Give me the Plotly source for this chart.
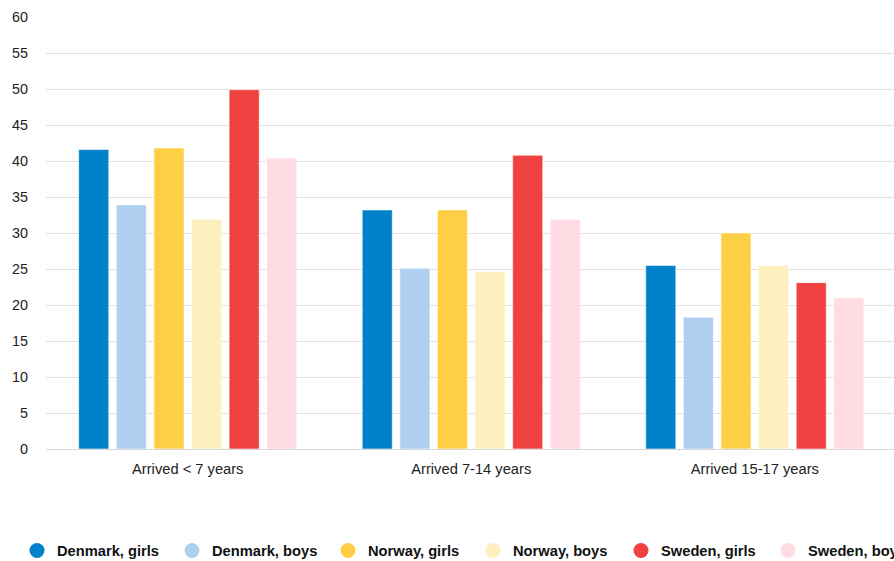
import plotly.graph_objects as go

categories = ["Arrived < 7 years", "Arrived 7-14 years", "Arrived 15-17 years"]
series_names = ["Denmark, girls", "Denmark, boys", "Norway, girls", "Norway, boys", "Sweden, girls", "Sweden, boys"]
denmark_girls = [41.6, 33.2, 25.5]
denmark_boys = [33.9, 25.1, 18.3]
norway_girls = [41.8, 33.2, 30.0]
norway_boys = [31.9, 24.6, 25.5]
sweden_girls = [49.9, 40.8, 23.1]
sweden_boys = [40.4, 31.9, 21.0]
series_values = [denmark_girls, denmark_boys, norway_girls, norway_boys, sweden_girls, sweden_boys]
colors = ["#0081C9", "#AECFF0", "#FECE44", "#FEEFBE", "#EF413F", "#FFDCE3"]
y_ticks = list(range(0, 61, 5))

FONT = "Liberation Sans, Arial, sans-serif"
W, H = 894, 561
ML, MR, MT, MB = 46, 0, 17, 112
# legend entry left edges (px), one legend box per series so the row never wraps
legend_left_px = [17, 172, 328, 473, 621, 768]

fig = go.Figure()
for name, vals, col in zip(series_names, series_values, colors):
    fig.add_trace(go.Bar(
        x=categories, y=vals, name=name, showlegend=False,
        marker=dict(color=col, line=dict(color="white", width=0.6)),
    ))

legend_layout = {}
for i, (name, col) in enumerate(zip(series_names, colors)):
    key = "legend" if i == 0 else f"legend{i + 1}"
    fig.add_trace(go.Scatter(
        x=[None], y=[None], mode="markers", name=name, legend=key,
        marker=dict(color=col, size=15, symbol="circle"),
    ))
    legend_layout[key] = dict(
        orientation="h", x=(legend_left_px[i] - ML) / (W - ML - MR), xanchor="left",
        y=-0.236, yanchor="middle", bgcolor="rgba(0,0,0,0)",
        font=dict(size=14.7, color="#111111", family=FONT, weight="bold"),
        itemsizing="trace", itemwidth=30,
    )

fig.update_layout(
    width=W, height=H,
    margin=dict(l=ML, r=MR, t=MT, b=MB, autoexpand=False),
    plot_bgcolor="white", paper_bgcolor="white",
    barmode="group", bargap=0.204, bargroupgap=0.20,
    font=dict(family=FONT, size=14.7, color="#222222"),
    xaxis=dict(
        range=[-0.5, 2.491], showgrid=False, showline=False, ticks="",
        ticklabelstandoff=9,
        tickfont=dict(size=14.7, color="#222222"),
    ),
    yaxis=dict(
        range=[0, 60], tickvals=y_ticks, showgrid=True, gridcolor="#e0e0e0", gridwidth=1,
        zeroline=True, zerolinecolor="#d8d8d8", zerolinewidth=1,
        showline=False, ticks="", ticklabelstandoff=17,
        tickfont=dict(size=14.3, color="#222222"),
    ),
    **legend_layout,
)
fig.write_html(
    "out.html",
    config={"displayModeBar": False},
    post_script="document.body.style.margin='0';document.body.style.overflow='hidden';",
)
